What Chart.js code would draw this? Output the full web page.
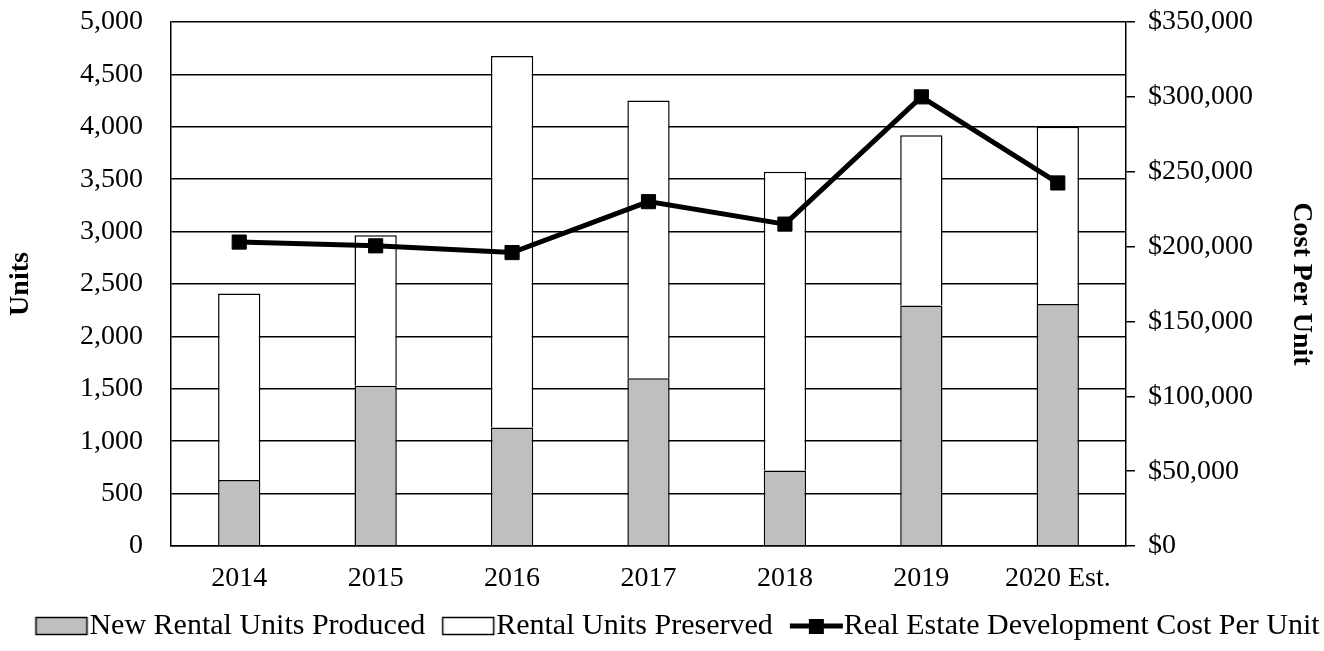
<!DOCTYPE html>
<html>
<head>
<meta charset="utf-8">
<script src="https://cdn.jsdelivr.net/npm/chart.js@4/dist/chart.umd.min.js"></script>
<style>
    html, body { margin: 0; padding: 0; background: #fff; }
    #chart { display: block; }
</style>
</head>
<body>
<canvas id="chart" width="1324" height="651"></canvas>
<script>
// Chart data
var years = ["2014", "2015", "2016", "2017", "2018", "2019", "2020 Est."];
var newUnits = [630, 1530, 1130, 1600, 720, 2295, 2310];
var preservedUnits = [1780, 1435, 3545, 2650, 2850, 1625, 1690];
var costPerUnit = [203000, 200500, 196000, 230000, 215000, 300000, 242500];

var seriesNames = ["New Rental Units Produced", "Rental Units Preserved", "Real Estate Development Cost Per Unit"];

var fontFamily = "'Liberation Serif', 'Times New Roman', serif";
var fontSize = 28;
var legendFontSize = 30;

// Small canvases used as legend symbols (box right edge touches the text)
function legendSwatch(kind) {
    var c = document.createElement('canvas');
    c.width = 84;
    c.height = 24;
    var g = c.getContext('2d');
    if (kind === 'line') {
        g.strokeStyle = '#000';
        g.lineWidth = 5;
        g.beginPath();
        g.moveTo(24, 12);
        g.lineTo(77, 12);
        g.stroke();
        g.fillStyle = '#000';
        g.fillRect(43, 5, 15, 15);
    } else {
        g.fillStyle = kind === 'gray' ? '#bfbfbf' : '#ffffff';
        g.fillRect(24.5, 3.5, 51, 17);
        g.strokeStyle = '#000';
        g.lineWidth = 1.5;
        g.strokeRect(24.5, 3.5, 51, 17);
    }
    return c;
}

var swatches = [legendSwatch('gray'), legendSwatch('white'), legendSwatch('line')];

// nudge legend to the right like in the original
var legendShift = {
    id: 'legendShift',
    afterLayout: function(chart) {
        chart.legend.left += 14;
        chart.legend.right += 14;
    }
};

// drop the extra space chart.js reserves above/below the value axes
function noEdgePadding(scale) {
    scale.paddingTop = 0;
    scale.paddingBottom = 0;
}

function initializeChart() {
    var ctx = document.getElementById('chart').getContext('2d');
    var myChart = new Chart(ctx, {
        type: 'bar',
        data: {
            labels: years,
            datasets: [{
                label: seriesNames[0],
                data: newUnits,
                backgroundColor: '#bfbfbf',
                borderColor: '#000',
                borderWidth: 1.5,
                yAxisID: 'y',
                order: 1
            }, {
                label: seriesNames[1],
                data: preservedUnits,
                backgroundColor: '#ffffff',
                borderColor: '#000',
                borderWidth: 1.5,
                yAxisID: 'y',
                order: 1
            }, {
                type: 'line',
                label: seriesNames[2],
                data: costPerUnit,
                borderColor: '#000',
                backgroundColor: '#000',
                borderWidth: 5,
                pointStyle: 'rect',
                pointRadius: 10,
                pointBorderWidth: 1,
                pointBackgroundColor: '#000',
                fill: false,
                tension: 0,
                yAxisID: 'y1',
                order: 0
            }]
        },
        options: {
            responsive: false,
            animation: false,
            devicePixelRatio: 1,
            layout: { padding: { top: 22, bottom: 0, left: 0, right: 0 } },
            datasets: {
                bar: { categoryPercentage: 1, barPercentage: 0.31 }
            },
            plugins: {
                tooltip: { enabled: false },
                legend: {
                    position: 'bottom',
                    labels: {
                        usePointStyle: true,
                        pointStyleWidth: 42,
                        boxHeight: legendFontSize,
                        padding: 14,
                        color: '#000',
                        font: { family: fontFamily, size: legendFontSize },
                        generateLabels: function(chart) {
                            return seriesNames.map(function(name, i) {
                                return {
                                    text: name,
                                    pointStyle: swatches[i],
                                    datasetIndex: i,
                                    hidden: false,
                                    fontColor: '#000',
                                    lineWidth: 0
                                };
                            });
                        }
                    }
                }
            },
            scales: {
                x: {
                    stacked: true,
                    grid: { display: false, drawTicks: false },
                    border: { display: true, color: '#000', width: 1.5 },
                    ticks: {
                        color: '#000',
                        padding: 16,
                        maxRotation: 0,
                        autoSkip: false,
                        font: { family: fontFamily, size: fontSize }
                    },
                    afterFit: function(scale) { scale.height = 51; }
                },
                y: {
                    stacked: true,
                    position: 'left',
                    min: 0,
                    max: 5000,
                    grid: { color: '#000', lineWidth: 1.5, drawTicks: false },
                    border: { display: true, color: '#000', width: 1.5 },
                    ticks: {
                        stepSize: 500,
                        color: '#000',
                        padding: 28,
                        font: { family: fontFamily, size: fontSize },
                        callback: function(v) { return v.toLocaleString('en-US'); }
                    },
                    title: {
                        display: true,
                        text: 'Units',
                        color: '#000',
                        padding: { top: 4, bottom: 0 },
                        font: { family: fontFamily, size: fontSize, weight: 'bold' }
                    },
                    afterFit: function(scale) {
                        scale.width = 171;
                        noEdgePadding(scale);
                    }
                },
                y1: {
                    stacked: false,
                    position: 'right',
                    min: 0,
                    max: 350000,
                    grid: { drawOnChartArea: false, drawTicks: true, tickLength: 9, color: '#000', lineWidth: 1.5 },
                    border: { display: true, color: '#000', width: 1.5 },
                    ticks: {
                        stepSize: 50000,
                        color: '#000',
                        padding: 13,
                        font: { family: fontFamily, size: fontSize },
                        callback: function(v) { return '$' + v.toLocaleString('en-US'); }
                    },
                    title: {
                        display: true,
                        text: 'Cost Per Unit',
                        color: '#000',
                        padding: { top: 6, bottom: 0 },
                        font: { family: fontFamily, size: fontSize, weight: 'bold' }
                    },
                    afterFit: function(scale) {
                        scale.width = 198;
                        noEdgePadding(scale);
                    }
                }
            }
        },
        plugins: [legendShift]
    });
}

window.onload = function() {
    initializeChart();
}
</script>
</body>
</html>
